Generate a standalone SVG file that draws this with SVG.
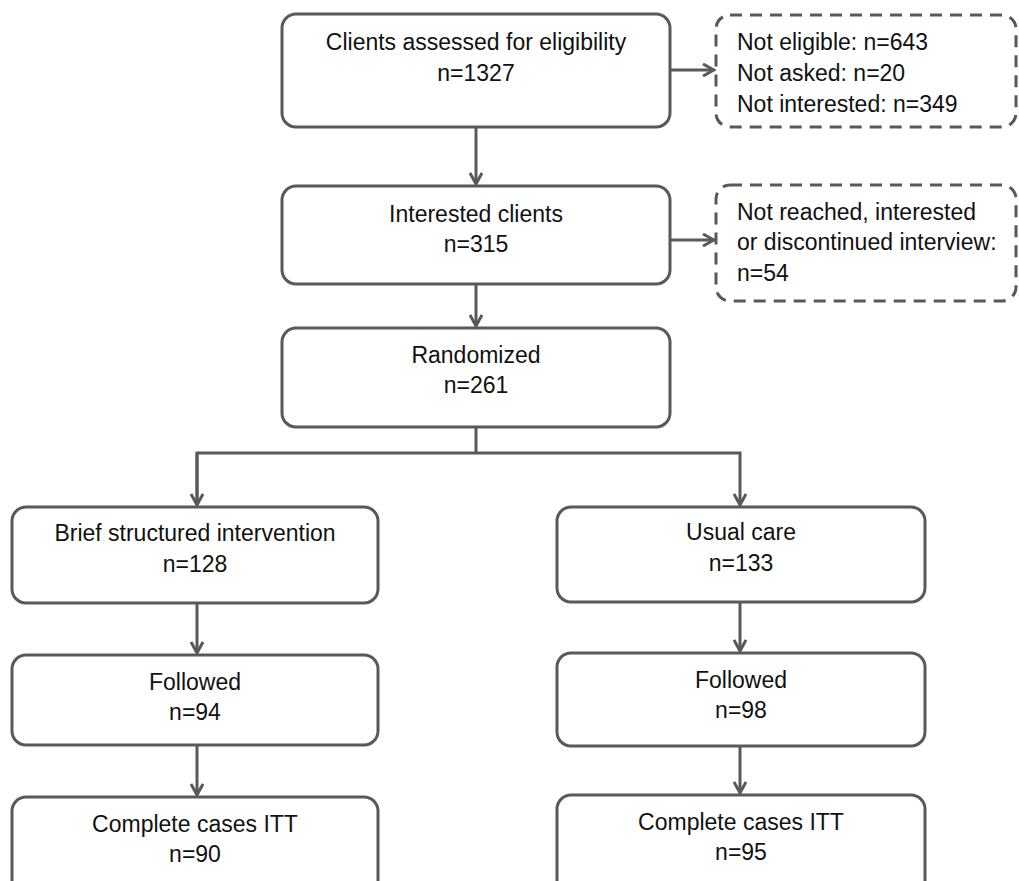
<svg xmlns="http://www.w3.org/2000/svg" width="1019" height="881" viewBox="0 0 1019 881">
<style>
.box{fill:#fff;stroke:#595959;stroke-width:3}
.dash{fill:#fff;stroke:#595959;stroke-width:3;stroke-dasharray:12 8}
.t{font-family:"Liberation Sans",Arial,sans-serif;font-size:23px;fill:#111}
.c{text-anchor:middle}
.ln{fill:none;stroke:#595959;stroke-width:3}
</style>
<defs>
<marker id="arr" viewBox="0 0 14 14" refX="12" refY="7" markerWidth="14" markerHeight="14" markerUnits="userSpaceOnUse" orient="auto">
<polyline points="1,1 12,7 1,13" fill="none" stroke="#595959" stroke-width="3"/>
</marker>
</defs>
<rect width="1019" height="881" fill="#fff"/>
<g id="connectors">
<line class="ln" x1="476" y1="127" x2="476" y2="184" marker-end="url(#arr)"/>
<line class="ln" x1="670" y1="70" x2="714" y2="70" marker-end="url(#arr)"/>
<line class="ln" x1="476" y1="284" x2="476" y2="326" marker-end="url(#arr)"/>
<line class="ln" x1="670" y1="240" x2="714" y2="240" marker-end="url(#arr)"/>
<polyline class="ln" points="476,427 476,453"/>
<polyline class="ln" points="197,505 197,453 740,453 740,505" marker-end="url(#arr)"/>
<line class="ln" x1="197" y1="453" x2="197" y2="505" marker-end="url(#arr)"/>
<line class="ln" x1="197" y1="603" x2="197" y2="653" marker-end="url(#arr)"/>
<line class="ln" x1="740" y1="602" x2="740" y2="651" marker-end="url(#arr)"/>
<line class="ln" x1="197" y1="745" x2="197" y2="795" marker-end="url(#arr)"/>
<line class="ln" x1="740" y1="746" x2="740" y2="793" marker-end="url(#arr)"/>
</g>
<g id="n1">
<rect class="box" x="282" y="14" width="388" height="113" rx="14"/>
<text class="t c" x="476" y="50">Clients assessed for eligibility</text>
<text class="t c" x="476" y="81">n=1327</text>
</g>
<g id="x1">
<rect class="dash" x="716" y="15" width="300" height="112" rx="14"/>
<text class="t" x="737" y="50">Not eligible: n=643</text>
<text class="t" x="737" y="81">Not asked: n=20</text>
<text class="t" x="737" y="112">Not interested: n=349</text>
</g>
<g id="n2">
<rect class="box" x="282" y="186" width="388" height="98" rx="14"/>
<text class="t c" x="476" y="222">Interested clients</text>
<text class="t c" x="476" y="252">n=315</text>
</g>
<g id="x2">
<rect class="dash" x="716" y="185" width="300" height="116" rx="14"/>
<text class="t" x="737" y="220">Not reached, interested</text>
<text class="t" x="737" y="250">or discontinued interview:</text>
<text class="t" x="737" y="281">n=54</text>
</g>
<g id="n3">
<rect class="box" x="282" y="328" width="388" height="99" rx="14"/>
<text class="t c" x="476" y="363">Randomized</text>
<text class="t c" x="476" y="393">n=261</text>
</g>
<g id="l1">
<rect class="box" x="12" y="507" width="366" height="96" rx="14"/>
<text class="t c" x="195" y="541">Brief structured intervention</text>
<text class="t c" x="195" y="572">n=128</text>
</g>
<g id="r1">
<rect class="box" x="557" y="507" width="368" height="95" rx="14"/>
<text class="t c" x="741" y="540">Usual care</text>
<text class="t c" x="741" y="571">n=133</text>
</g>
<g id="l2">
<rect class="box" x="12" y="655" width="366" height="90" rx="14"/>
<text class="t c" x="195" y="690">Followed</text>
<text class="t c" x="195" y="720">n=94</text>
</g>
<g id="r2">
<rect class="box" x="557" y="653" width="368" height="93" rx="14"/>
<text class="t c" x="741" y="688">Followed</text>
<text class="t c" x="741" y="718">n=98</text>
</g>
<g id="l3">
<rect class="box" x="12" y="797" width="366" height="100" rx="14"/>
<text class="t c" x="195" y="832">Complete cases ITT</text>
<text class="t c" x="195" y="862">n=90</text>
</g>
<g id="r3">
<rect class="box" x="557" y="795" width="368" height="100" rx="14"/>
<text class="t c" x="741" y="830">Complete cases ITT</text>
<text class="t c" x="741" y="860">n=95</text>
</g>
</svg>
